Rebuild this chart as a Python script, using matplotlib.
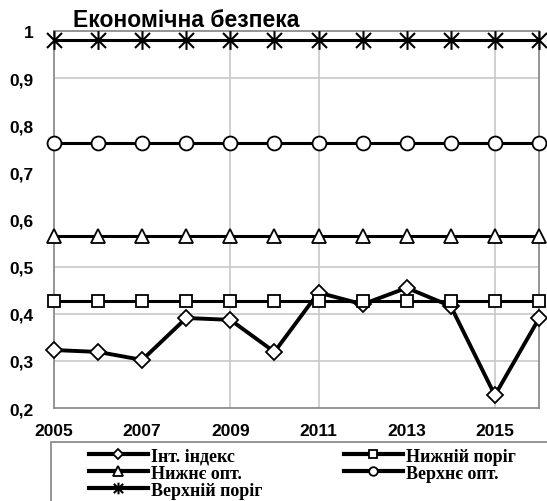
import matplotlib
matplotlib.use("Agg")
import matplotlib.pyplot as plt
from matplotlib.path import Path
from matplotlib.patches import Rectangle

years = [2005, 2006, 2007, 2008, 2009, 2010, 2011, 2012, 2013, 2014, 2015, 2016]
integral_index = [0.323, 0.319, 0.302, 0.391, 0.387, 0.319, 0.445, 0.420, 0.455, 0.416, 0.227, 0.390]
lower_threshold = [0.427] * 12
lower_optimum = [0.565] * 12
upper_optimum = [0.762] * 12
upper_threshold = [0.980] * 12

labels = ["Інт. індекс", "Нижній поріг", "Нижнє опт.", "Верхнє опт.", "Верхній поріг"]
title = "Економічна безпека"
xticks = [2005, 2007, 2009, 2011, 2013, 2015]
yticks = [0.2, 0.3, 0.4, 0.5, 0.6, 0.7, 0.8, 0.9, 1.0]
ytick_labels = ["0,2", "0,3", "0,4", "0,5", "0,6", "0,7", "0,8", "0,9", "1"]

W, H = 547, 502
fig = plt.figure(figsize=(W / 100, H / 100), dpi=100)
ax = fig.add_axes([54 / W, 1 - 409 / H, (539 - 54) / W, (409 - 32) / H])

grid_c = "#c8c8c8"
for yv in (0.3, 0.4, 0.5, 0.9):
    ax.axhline(yv, color=grid_c, lw=1.2, zorder=0)
for xv in (2009, 2011, 2015):
    ax.axvline(xv, color=grid_c, lw=1.2, zorder=0)

star = Path([(0, -1), (0, 1), (-0.8, -0.8), (0.8, 0.8), (-0.8, 0.8), (0.8, -0.8)],
            [Path.MOVETO, Path.LINETO, Path.MOVETO, Path.LINETO, Path.MOVETO, Path.LINETO])

common = dict(color="black", markerfacecolor="white", markeredgecolor="black",
              markeredgewidth=1.3, clip_on=False)
h1, = ax.plot(years, integral_index, marker="D", markersize=8, lw=2.8, label=labels[0], zorder=3, **common)
h2, = ax.plot(years, lower_threshold, marker="s", markersize=9, lw=2.2, label=labels[1], zorder=4, **common)
h3, = ax.plot(years, lower_optimum, marker="^", markersize=10.5, lw=2.2, label=labels[2], zorder=4, **common)
h4, = ax.plot(years, upper_optimum, marker="o", markersize=10, lw=2.2, label=labels[3], zorder=4, **common)
h5, = ax.plot(years, upper_threshold, marker=star, markersize=13.5, lw=2.2, label=labels[4], zorder=4,
              color="black", markeredgecolor="black", markeredgewidth=1.5, clip_on=False)

ax.set_xlim(2005, 2016)
ax.set_ylim(0.2, 1.0)
ax.set_xticks(xticks)
ax.set_xticklabels([str(x) for x in xticks], fontsize=12.5, fontweight="bold", family="Liberation Sans")
ax.set_yticks(yticks)
ax.set_yticklabels(ytick_labels, fontsize=12.5, fontweight="bold", family="Liberation Sans")
ax.tick_params(axis="x", length=0, pad=11)
ax.tick_params(axis="y", length=0, pad=15)
for s in ax.spines.values():
    s.set_color("#8c8c8c")
    s.set_linewidth(1.3)

fig.text(73 / W, 1 - 27 / H, title, fontsize=16.5, fontweight="bold", family="Liberation Sans",
         ha="left", va="baseline")

# legend frame
fig.patches.append(Rectangle((51 / W, -0.05), 1.0, 1 - 443 / H + 0.05, transform=fig.transFigure,
                             facecolor="white", edgecolor="#8c8c8c", lw=1.3, zorder=0))
leg = fig.legend([h1, h3, h5, h2, h4], [labels[0], labels[2], labels[4], labels[1], labels[3]],
                 ncol=2, loc="upper left", bbox_to_anchor=(85 / W, 1 - 445 / H), frameon=False,
                 prop={"family": "Liberation Serif", "weight": "bold", "size": 13},
                 handlelength=3.3, handletextpad=0.15, columnspacing=4.5, labelspacing=0.0,
                 borderaxespad=0, borderpad=0.2, markerscale=0.62)
for ln in leg.get_lines():
    ln.set_linewidth(3.0)

fig.savefig("out.png", dpi=100)
